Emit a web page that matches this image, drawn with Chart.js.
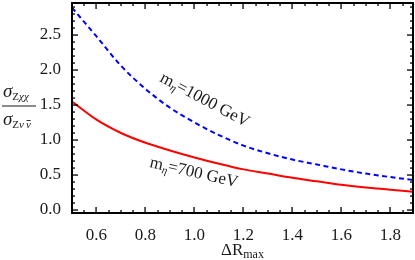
<!DOCTYPE html>
<html>
<head>
<meta charset="utf-8">
<script src="https://cdn.jsdelivr.net/npm/chart.js@4/dist/chart.umd.min.js"></script>
<style>
html,body{margin:0;padding:0;background:#fff;}
#wrap{width:415px;height:260px;position:relative;}
</style>
</head>
<body>
<div id="wrap"><canvas id="c" width="415" height="260"></canvas></div>
<script>
// ---- data ----
const deltaR = [0.5, 0.6, 0.7, 0.8, 0.9, 1.0, 1.1, 1.2, 1.3, 1.4, 1.5, 1.6, 1.7, 1.8, 1.89];
const ratio1000 = [2.89, 2.48, 2.06, 1.73, 1.46, 1.25, 1.07, 0.92, 0.81, 0.72, 0.65, 0.58, 0.52, 0.47, 0.43];
const ratio700 = [1.55, 1.29, 1.10, 0.96, 0.85, 0.75, 0.66, 0.58, 0.52, 0.46, 0.41, 0.36, 0.32, 0.29, 0.26];
const xTicks = [0.6, 0.8, 1.0, 1.2, 1.4, 1.6, 1.8];
const yTicks = [0.0, 0.5, 1.0, 1.5, 2.0, 2.5];
const xRange = [0.5, 1.892];
const yRange = [-0.043, 2.957];

const serif = '"Liberation Serif", "DejaVu Serif", serif';
const textCol = '#1a1a1a';

function pts(xs, ys){ return xs.map((x,i)=>({x:x, y:ys[i]})); }

function drawRuns(ctx, x, y, runs){
  let cx = x;
  for (const r of runs){
    ctx.font = r.font;
    const w = ctx.measureText(r.t).width;
    ctx.fillText(r.t, cx, y + (r.dy||0));
    if (r.over){
      ctx.fillRect(cx + 0.5, y + (r.dy||0) - r.over, w - 0.7, 0.9);
    }
    cx += w + (r.gap||0);
  }
  return cx - x;
}

const framePlugin = {
  id: 'framePlugin',
  afterDraw(chart){
    const ctx = chart.ctx, a = chart.chartArea;
    const xs = chart.scales.x, ys = chart.scales.y;
    ctx.save();
    ctx.setLineDash([]);
    ctx.globalAlpha = 1;
    ctx.fillStyle = 'rgb(0,0,0)';
    const L = Math.round(a.left), R = Math.round(a.right), T = Math.round(a.top), B = Math.round(a.bottom);
    // frame
    ctx.fillRect(L - 1, T - 1, R - L + 2, 2);
    ctx.fillRect(L - 1, B - 1, R - L + 2, 2);
    ctx.fillRect(L - 1, T - 1, 2, B - T + 2);
    ctx.fillRect(R - 1, T - 1, 2, B - T + 2);
    // inward ticks
    for (let i = 0; i < 40; i++){
      const vv = Math.round((xRange[0] + i*0.05)*100)/100;
      if (vv > xRange[1]) break;
      const major = Math.abs(vv*5 - Math.round(vv*5)) < 1e-6;
      const len = major ? 6 : 3;
      const px = Math.round(xs.getPixelForValue(vv));
      if (px < L + 2 || px > R - 2) continue;
      ctx.fillRect(px - 0.6, B - len, 1.3, len);
      ctx.fillRect(px - 0.6, T, 1.3, len);
    }
    for (let i = 0; i < 40; i++){
      const vv = i / 10;
      if (vv > yRange[1]) break;
      const major = i % 5 === 0;
      const len = major ? 6 : 3;
      const py = Math.round(ys.getPixelForValue(vv));
      if (py < T + 2 || py > B - 2) continue;
      ctx.fillRect(L, py - 0.6, len, 1.3);
      ctx.fillRect(R - len, py - 0.6, len, 1.3);
    }

    ctx.fillStyle = textCol;
    ctx.textBaseline = 'alphabetic';
    ctx.textAlign = 'left';
    // y axis title (fraction)
    const big = 'italic 19px ' + serif;
    const sub = '11px ' + serif;
    const subi = 'italic 11px ' + serif;
    drawRuns(ctx, 3, 97, [
      {t:'σ', font: big},
      {t:'Z', font: sub, dy: 3},
      {t:'χχ', font: subi, dy: 3}
    ]);
    ctx.fillRect(2, 105.5, 34, 1);
    drawRuns(ctx, 3, 125, [
      {t:'σ', font: big},
      {t:'Z', font: sub, dy: 3},
      {t:'ν', font: subi, dy: 3, gap: 2},
      {t:'ν', font: subi, dy: 3, over: 8}
    ]);
    // x axis title
    drawRuns(ctx, 221, 255, [
      {t:'ΔR', font: '17px ' + serif},
      {t:'max', font: '12px ' + serif, dy: 3}
    ]);

    // curve labels
    ctx.save();
    ctx.translate(159, 81);
    ctx.rotate(28 * Math.PI / 180);
    drawRuns(ctx, 0, 0, [
      {t:'m', font: '17px ' + serif},
      {t:'η', font: 'italic 11px ' + serif, dy: 3},
      {t:'=1000 GeV', font: '17px ' + serif}
    ]);
    ctx.restore();
    ctx.save();
    ctx.translate(149, 167);
    ctx.rotate(13 * Math.PI / 180);
    drawRuns(ctx, 0, 0, [
      {t:'m', font: '17px ' + serif},
      {t:'η', font: 'italic 11px ' + serif, dy: 3},
      {t:'=700 GeV', font: '17px ' + serif}
    ]);
    ctx.restore();
    ctx.restore();
  }
};

new Chart(document.getElementById('c'), {
  type: 'line',
  data: {
    datasets: [
      {
        label: 'm_η=1000 GeV',
        data: pts(deltaR, ratio1000),
        borderColor: '#0000ff',
        borderWidth: 2,
        borderDash: [5, 3.5],
        pointRadius: 0,
        fill: false,
        cubicInterpolationMode: 'monotone'
      },
      {
        label: 'm_η=700 GeV',
        data: pts(deltaR, ratio700),
        borderColor: '#ff0000',
        borderWidth: 2,
        pointRadius: 0,
        fill: false,
        cubicInterpolationMode: 'monotone'
      }
    ]
  },
  options: {
    responsive: false,
    animation: false,
    events: [],
    layout: { padding: { left: 0, right: 2, top: 3, bottom: 0 } },
    plugins: { legend: { display: false }, tooltip: { enabled: false } },
    scales: {
      x: {
        type: 'linear',
        min: xRange[0], max: xRange[1],
        grid: { display: false },
        border: { display: false },
        afterBuildTicks: s => { s.ticks = xTicks.map(v => ({ value: v })); },
        afterFit: s => { s.height = 47; s.paddingLeft = 0; s.paddingRight = 0; },
        ticks: {
          color: textCol,
          padding: 4,
          maxRotation: 0,
          font: { family: serif, size: 17 },
          callback: v => Number(v).toFixed(1)
        }
      },
      y: {
        type: 'linear',
        min: yRange[0], max: yRange[1],
        grid: { display: false },
        border: { display: false },
        afterBuildTicks: s => { s.ticks = yTicks.map(v => ({ value: v })); },
        afterFit: s => { s.width = 72; s.paddingTop = 0; s.paddingBottom = 0; },
        ticks: {
          color: textCol,
          padding: 3,
          font: { family: serif, size: 17 },
          callback: v => Number(v).toFixed(1)
        }
      }
    }
  },
  plugins: [framePlugin]
});
</script>
</body>
</html>
